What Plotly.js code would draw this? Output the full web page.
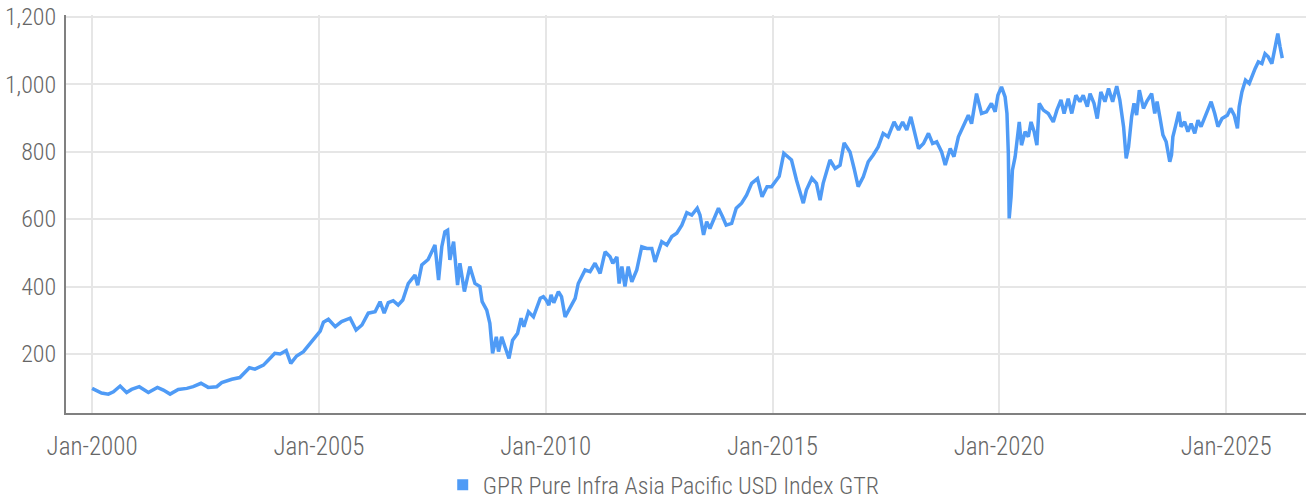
<!DOCTYPE html>
<html>
<head>
<meta charset="utf-8">
<script src="https://cdn.plot.ly/plotly-3.0.1.min.js"></script>
<style>
html,body{margin:0;padding:0;background:#fff;}
#chart{width:1306px;height:500px;}
#chart text{font-stretch:75% !important;}
</style>
</head>
<body>
<div id="chart"></div>
<script>
// Time points (decimal years)
const timeYears = [
2000.00,2000.10,2000.21,2000.36,2000.47,2000.62,2000.76,2000.87,2001.04,2001.24,2001.44,2001.57,2001.72,2001.90,
2002.09,2002.23,2002.40,2002.56,2002.75,2002.86,2003.08,2003.26,2003.47,2003.59,2003.78,2003.89,2004.03,2004.15,
2004.28,2004.38,2004.51,2004.66,2004.81,2004.95,2005.03,2005.10,2005.21,2005.36,2005.50,2005.69,2005.82,2005.95,
2006.09,2006.24,2006.35,2006.44,2006.53,2006.64,2006.75,2006.85,2006.97,2007.12,2007.18,2007.27,2007.41,2007.56,
2007.64,2007.71,2007.78,2007.84,2007.89,2007.97,2008.00,2008.06,2008.11,2008.21,2008.33,2008.44,2008.55,2008.60,
2008.70,2008.77,2008.83,2008.91,2008.96,2009.03,2009.10,2009.19,2009.27,2009.38,2009.46,2009.52,2009.62,2009.73,
2009.88,2009.95,2010.01,2010.07,2010.12,2010.18,2010.28,2010.35,2010.43,2010.54,2010.65,2010.72,2010.87,2010.98,
2011.09,2011.20,2011.31,2011.42,2011.48,2011.57,2011.62,2011.68,2011.75,2011.82,2011.90,2012.01,2012.12,2012.23,
2012.34,2012.41,2012.56,2012.67,2012.78,2012.89,2013.00,2013.11,2013.22,2013.34,2013.40,2013.48,2013.55,2013.62,
2013.70,2013.81,2013.90,2013.98,2014.10,2014.20,2014.32,2014.43,2014.54,2014.67,2014.77,2014.88,2014.98,2015.06,
2015.15,2015.25,2015.42,2015.53,2015.68,2015.75,2015.87,2015.97,2016.05,2016.12,2016.27,2016.38,2016.49,2016.58,
2016.71,2016.80,2016.89,2017.00,2017.11,2017.22,2017.33,2017.44,2017.55,2017.68,2017.78,2017.87,2017.96,2018.05,
2018.14,2018.22,2018.33,2018.44,2018.53,2018.62,2018.73,2018.81,2018.92,2019.00,2019.10,2019.21,2019.32,2019.39,
2019.50,2019.61,2019.72,2019.83,2019.91,2019.97,2020.05,2020.13,2020.17,2020.20,2020.22,2020.26,2020.29,2020.35,
2020.38,2020.44,2020.49,2020.57,2020.64,2020.70,2020.77,2020.83,2020.88,2020.97,2021.08,2021.19,2021.27,2021.36,
2021.43,2021.52,2021.60,2021.69,2021.78,2021.85,2021.94,2022.00,2022.09,2022.16,2022.24,2022.33,2022.41,2022.50,
2022.59,2022.66,2022.74,2022.78,2022.80,2022.85,2022.92,2022.97,2023.03,2023.09,2023.18,2023.25,2023.36,2023.43,
2023.48,2023.54,2023.61,2023.68,2023.76,2023.80,2023.83,2023.90,2023.96,2024.01,2024.09,2024.16,2024.23,2024.31,
2024.38,2024.45,2024.53,2024.60,2024.67,2024.75,2024.82,2024.91,2025.03,2025.10,2025.18,2025.25,2025.29,2025.35,
2025.43,2025.51,2025.58,2025.64,2025.71,2025.79,2025.86,2025.93,2026.01,2026.08,2026.14,2026.19,2026.24
];
// Index level values
const indexValues = [
98,91,84,81,88,105,86,95,103,86,101,93,81,95,
98,103,113,101,103,115,125,130,159,155,167,182,202,200,
210,172,194,207,232,256,268,294,303,281,296,306,271,286,
321,325,355,321,352,358,345,360,409,434,404,464,480,523,
419,518,562,567,479,533,488,404,469,385,459,409,400,355,
330,291,202,251,207,251,222,187,241,261,306,281,325,310,
365,370,360,345,375,352,385,370,310,340,365,409,449,444,
469,439,503,488,469,488,409,459,400,459,414,449,518,513,
513,473,533,523,548,558,582,619,612,632,612,553,592,572,
597,632,607,582,587,632,647,671,706,720,666,696,696,710,
727,795,775,716,647,686,721,706,656,706,775,750,760,826,
799,750,696,725,770,790,814,854,844,888,864,888,864,903,
849,809,824,854,824,829,799,760,809,785,844,874,908,883,
972,913,918,943,918,967,992,962,913,795,602,666,745,785,
814,888,819,859,844,888,859,819,943,923,913,888,923,953,
913,957,913,967,948,967,933,972,943,898,977,948,987,948,
994,953,874,804,780,814,903,943,908,982,928,948,972,913,
948,903,849,829,770,790,844,883,918,874,888,859,883,854,
893,874,903,923,948,913,874,898,908,928,908,869,933,977,
1012,1002,1027,1046,1066,1061,1090,1081,1061,1111,1150,1111,1077
];
const seriesName = "GPR Pure Infra Asia Pacific USD Index GTR";
const yTickValues = [200, 400, 600, 800, 1000, 1200];
const xRangeYears = [1999.427, 2026.764];

function yearToDate(t) {
  const y = Math.floor(t);
  const a = Date.UTC(y, 0, 1), b = Date.UTC(y + 1, 0, 1);
  return new Date(a + (t - y) * (b - a)).toISOString().slice(0, 10);
}

const lineColor = "#4f9bf6";
const fontFam = "Roboto, sans-serif";

const traces = [
  {
    x: timeYears.map(yearToDate),
    y: indexValues,
    type: "scatter",
    mode: "lines",
    line: {color: lineColor, width: 3.5},
    showlegend: false,
    hoverinfo: "x+y"
  },
  {
    x: [null], y: [null],
    type: "scatter",
    mode: "markers",
    marker: {symbol: "square", size: 11, color: lineColor},
    name: seriesName,
    showlegend: true
  }
];

const layout = {
  width: 1306, height: 500,
  margin: {l: 66, r: 0, t: 15, b: 87, autoexpand: false},
  paper_bgcolor: "#ffffff",
  plot_bgcolor: "#ffffff",
  font: {family: fontFam, color: "#666666", size: 24, weight: 300},
  xaxis: {
    type: "date",
    range: xRangeYears.map(yearToDate),
    tick0: "2000-01-01",
    dtick: "M60",
    tickformat: "%b-%Y",
    showgrid: true, gridcolor: "#e6e6e6", gridwidth: 2,
    showline: true, linecolor: "#808080", linewidth: 2,
    ticks: "outside", ticklen: 10, tickcolor: "rgba(0,0,0,0)",
    tickfont: {family: fontFam, size: 25, color: "#666666", weight: 300},
    zeroline: false
  },
  yaxis: {
    range: [25, 1205],
    tickvals: yTickValues,
    tickformat: ",",
    showgrid: true, gridcolor: "#e6e6e6", gridwidth: 2,
    showline: true, linecolor: "#808080", linewidth: 2,
    ticks: "outside", ticklen: 3, tickcolor: "rgba(0,0,0,0)",
    tickfont: {family: fontFam, size: 24, color: "#666666", weight: 300},
    zeroline: false
  },
  legend: {
    orientation: "h",
    x: 0.503, xanchor: "center",
    y: -0.181, yanchor: "middle",
    font: {family: fontFam, size: 24, color: "#666666", weight: 300},
    itemwidth: 30
  },
  showlegend: true
};

Plotly.newPlot("chart", traces, layout, {displayModeBar: false, staticPlot: true});
</script>
</body>
</html>
